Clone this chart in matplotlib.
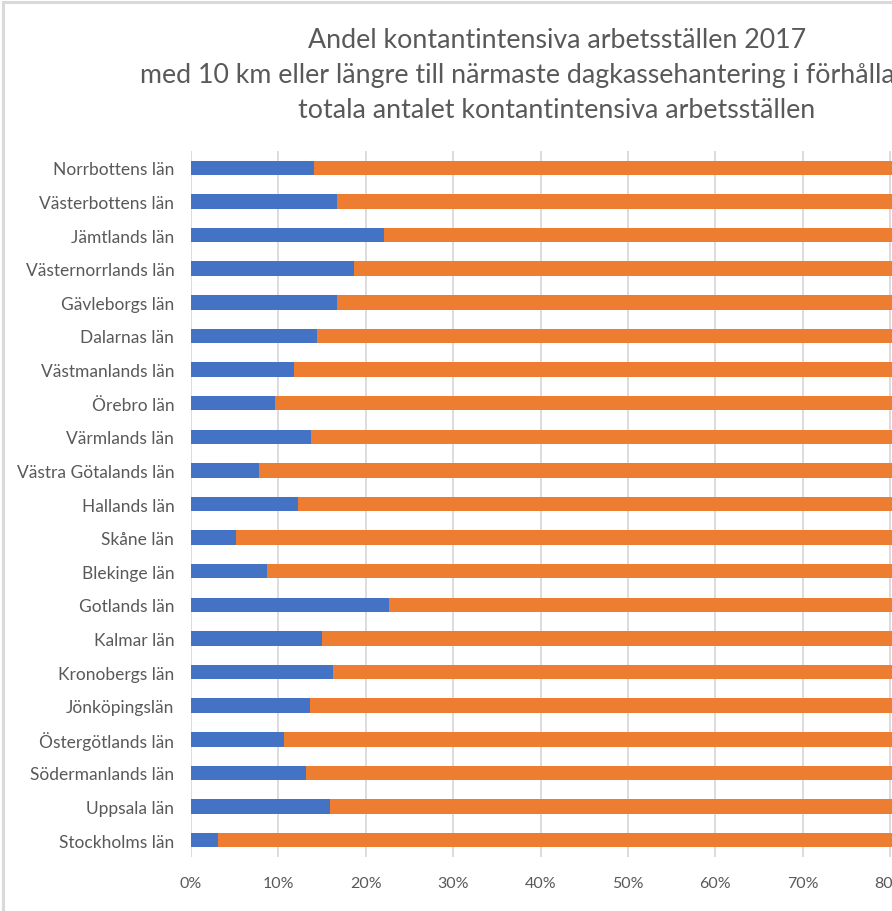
import matplotlib

matplotlib.use("Agg")
import matplotlib.pyplot as plt
from matplotlib.lines import Line2D

plt.rcParams["font.family"] = ["Lato", "DejaVu Sans"]

# county labels, top to bottom as in the chart
lan = [
    "Norrbottens län", "Västerbottens län", "Jämtlands län", "Västernorrlands län",
    "Gävleborgs län", "Dalarnas län", "Västmanlands län", "Örebro län",
    "Värmlands län", "Västra Götalands län", "Hallands län", "Skåne län",
    "Blekinge län", "Gotlands län", "Kalmar län", "Kronobergs län",
    "Jönköpingslän", "Östergötlands län", "Södermanlands län", "Uppsala län",
    "Stockholms län",
]
# share (%) with >= 10 km to nearest day-cash handling
andel_10km = [14.1, 16.7, 22.1, 18.6, 16.7, 14.4, 11.8, 9.6, 13.7, 7.8, 12.2,
              5.1, 8.7, 22.7, 15.0, 16.2, 13.6, 10.6, 13.2, 15.9, 3.1]
# remaining share (%)
andel_rest = [100 - v for v in andel_10km]
x_ticks = [0, 10, 20, 30, 40, 50, 60, 70, 80, 90, 100]

BLUE, ORANGE, GREY, GRID = "#4472C4", "#ED7D31", "#595959", "#D9D9D9"

W, H = 892, 912
fig = plt.figure(figsize=(W / 100, H / 100), dpi=100)

# axes runs past the right edge: the source image is cropped at ~80 %
ax = fig.add_axes([191 / W, 54 / H, 874 / W, 706 / H])
ypos = list(range(len(lan)))
ax.barh(ypos, andel_10km, height=0.43, color=BLUE, zorder=2)
ax.barh(ypos, andel_rest, left=andel_10km, height=0.43, color=ORANGE, zorder=2)
ax.set_ylim(len(lan) - 0.5, -0.5)
ax.set_xlim(0, 100)
ax.set_yticks(ypos)
ax.set_yticklabels(lan, fontsize=12.5, color=GREY)
ax.set_xticks(x_ticks)
ax.set_xticklabels([f"{t}%" for t in x_ticks], fontsize=11.5, color=GREY)
ax.tick_params(axis="y", length=0, pad=12)
ax.tick_params(axis="x", length=0, pad=14)
for s in ax.spines.values():
    s.set_visible(False)
ax.xaxis.grid(True, color=GRID, lw=1.3, zorder=0)
ax.set_axisbelow(True)

fig.text(557 / W, 1 - 75 / H,
         "Andel kontantintensiva arbetsställen 2017\n"
         "med 10 km eller längre till närmaste dagkassehantering i förhållande till\n"
         "totala antalet kontantintensiva arbetsställen",
         ha="center", va="center", fontsize=19.3, color=GREY, linespacing=1.5)

# light chart-area border (top and left visible in the crop)
fig.add_artist(Line2D([3 / W, 3 / W], [0, 1 - 3 / H], color=GRID, lw=2.2,
                      transform=fig.transFigure))
fig.add_artist(Line2D([3 / W, 1], [1 - 3 / H, 1 - 3 / H], color=GRID, lw=2.2,
                      transform=fig.transFigure))

fig.savefig("out.png", dpi=100)
